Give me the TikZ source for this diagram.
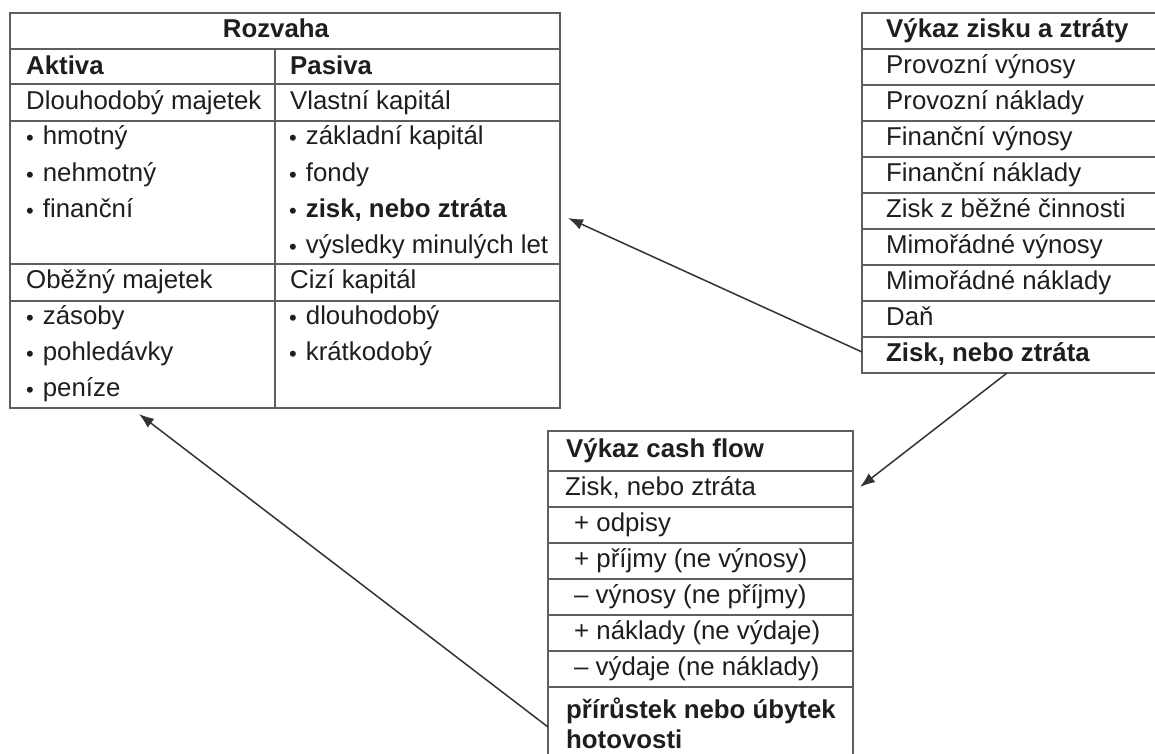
\documentclass[tikz,border=0pt]{standalone}
\usepackage{fontspec}
\setmainfont{Liberation Sans}
\usetikzlibrary{arrows.meta}
\definecolor{linec}{HTML}{5E5E5E}
\definecolor{txtc}{HTML}{1E1E1E}
\definecolor{arrc}{HTML}{333333}
\newcommand{\bul}{\raisebox{-0.5pt}{\fontsize{22}{22}\selectfont\textbullet}\hspace{9pt}}
\begin{document}
\begin{tikzpicture}[x=1pt,y=-1pt,
  txt/.style={anchor=west, inner sep=0pt, text=txtc, text height=18.5pt, text depth=5pt,
              font=\fontsize{25.8}{30}\selectfont},
  btxt/.style={txt, font=\fontsize{25.8}{30}\selectfont\bfseries},
  grid/.style={draw=linec, line width=1.8pt},
  conn/.style={draw=arrc, line width=1.5pt, -{Latex[length=15pt,width=11pt]}}]
\useasboundingbox (0,0) rectangle (1155,753);
\clip (0,0) rectangle (1155,753);
\fill[white] (0,0) rectangle (1155,753);

% ---------- Rozvaha ----------
\draw[grid] (10,13) rectangle (560,408);
\foreach \y in {49,84,121,264,301} \draw[grid] (10,\y) -- (560,\y);
\draw[grid] (275,49) -- (275,408);

\node[btxt, anchor=center] (roz) at (276,31) {Rozvaha};
\node[btxt] (akt) at (26,68) {Aktiva};
\node[btxt] (pas) at (290,68) {Pasiva};
\node[txt] (dlm) at (26,103) {Dlouhodobý majetek};
\node[txt] (vk) at (290,103) {Vlastní kapitál};
\node[txt] (hm) at (26,138) {\bul hmotný};
\node[txt] (nhm) at (26,175) {\bul nehmotný};
\node[txt] (fin) at (26,211) {\bul finanční};
\node[txt] (zk) at (289,138) {\bul základní kapitál};
\node[txt] (fo) at (289,175) {\bul fondy};
\node[txt] (zz) at (289,211) {\bul\textbf{zisk, nebo ztráta}};
\node[txt] (vml) at (289,247) {\bul výsledky minulých let};
\node[txt] (obm) at (26,282) {Oběžný majetek};
\node[txt] (ck) at (290,282) {Cizí kapitál};
\node[txt] (zas) at (26,318) {\bul zásoby};
\node[txt] (poh) at (26,354) {\bul pohledávky};
\node[txt] (pen) at (26,390) {\bul peníze};
\node[txt] (dl) at (289,318) {\bul dlouhodobý};
\node[txt] (kr) at (289,354) {\bul krátkodobý};

% ---------- Vykaz zisku a ztraty ----------
\draw[grid] (862,13) rectangle (1175,373);
\foreach \y in {49,85,121,157,193,229,265,301,337} \draw[grid] (862,\y) -- (1175,\y);
\node[btxt] (vzz) at (886,31) {Výkaz zisku a ztráty};
\node[txt] (pv) at (886,67) {Provozní výnosy};
\node[txt] (pn) at (886,103) {Provozní náklady};
\node[txt] (fv) at (886,139) {Finanční výnosy};
\node[txt] (fn) at (886,175) {Finanční náklady};
\node[txt] (zbc) at (886,211) {Zisk z běžné činnosti};
\node[txt] (mv) at (886,247) {Mimořádné výnosy};
\node[txt] (mn) at (886,283) {Mimořádné náklady};
\node[txt] (dan) at (886,319) {Daň};
\node[btxt] (vzzz) at (886,355) {Zisk, nebo ztráta};

% ---------- Vykaz cash flow ----------
\draw[grid] (548,765) -- (548,431) -- (853,431) -- (853,765);
\foreach \y in {471,507,543,579,615,651,687} \draw[grid] (548,\y) -- (853,\y);
\node[btxt] (cf) at (566,451) {Výkaz cash flow};
\node[txt] (cfz) at (565,489) {Zisk, nebo ztráta};
\node[txt] (od) at (574,525) {+ odpisy};
\node[txt] (pr) at (574,561) {+ příjmy (ne výnosy)};
\node[txt] (vy) at (574,597) {– výnosy (ne příjmy)};
\node[txt] (na) at (574,633) {+ náklady (ne výdaje)};
\node[txt] (vd) at (574,669) {– výdaje (ne náklady)};
\node[txt, text height=, text depth=, align=left, font=\fontsize{25.8}{30}\selectfont\bfseries] (pu) at (566,723) {přírůstek nebo úbytek\\hotovosti};

% ---------- connectors ----------
\coordinate (a1s) at (862,352);
\coordinate (a1e) at (568,218);
\coordinate (a2s) at (1007,373);
\coordinate (a2e) at (860,487);
\coordinate (a3s) at (548,727);
\coordinate (a3e) at (139,414);
\draw[conn] (a1s) -- (a1e);
\draw[conn] (a2s) -- (a2e);
\draw[conn] (a3s) -- (a3e);
\end{tikzpicture}
\end{document}
